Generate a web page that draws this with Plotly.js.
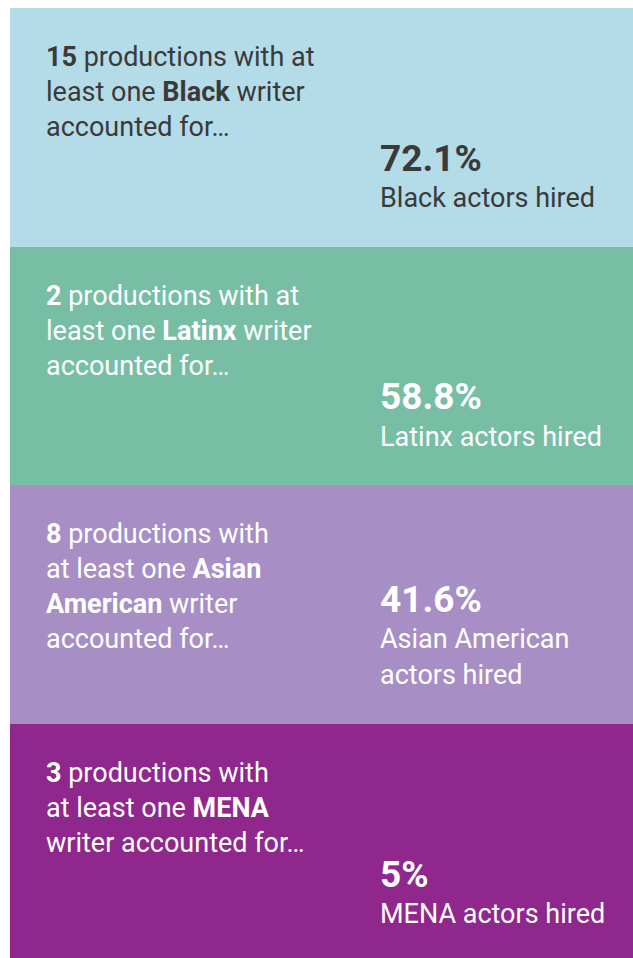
<!DOCTYPE html>
<html>
<head>
<meta charset="utf-8">
<script src="https://cdn.plot.ly/plotly-3.0.1.min.js"></script>
<style>html,body{margin:0;padding:0;background:#fff;}#chart{width:633px;height:958px;}</style>
</head>
<body>
<div id="chart"></div>
<script>
// ---- data ----
const groups = ["Black", "Latinx", "Asian American", "MENA"];
const productions = [15, 2, 8, 3];
const actorShare = [72.1, 58.8, 41.6, 5];
const panelColors = ["#b4dbe8", "#77bea5", "#a78fc5", "#8f278c"];
const textColors = ["#3a3a3a", "#ffffff", "#ffffff", "#ffffff"];
// wrapped text lines per panel
const leftLines = [
  ["<b>15</b> productions with at", "least one <b>Black</b> writer", "accounted for…"],
  ["<b>2</b> productions with at", "least one <b>Latinx</b> writer", "accounted for…"],
  ["<b>8</b> productions with", "at least one <b>Asian</b>", "<b>American</b> writer", "accounted for…"],
  ["<b>3</b> productions with", "at least one <b>MENA</b>", "writer accounted for…"]
];
const pctLabels = ["72.1%", "58.8%", "41.6%", "5%"];
const rightLines = [
  ["Black actors hired"],
  ["Latinx actors hired"],
  ["Asian American", "actors hired"],
  ["MENA actors hired"]
];

// ---- layout constants ----
const FONT = "Roboto, 'Liberation Sans', sans-serif";
const PANEL_PX = 238.7;
const half = PANEL_PX / 2;
const annotations = [];
groups.forEach((g, i) => {
  leftLines[i].forEach((t, k) => {
    annotations.push({
      xref: "paper", yref: "y", x: 0, y: i, xshift: 34,
      xanchor: "left", yanchor: "middle",
      yshift: half - (49 + 35 * k),
      text: t, showarrow: false,
      font: {family: FONT, size: 27, color: textColors[i]}
    });
  });
  const rl = rightLines[i];
  const n = rl.length;
  rl.forEach((t, k) => {
    annotations.push({
      xref: "paper", yref: "y", x: 0, y: i, xshift: 368,
      xanchor: "left", yanchor: "middle",
      yshift: half - (190 - 36 * (n - 1 - k)),
      text: t, showarrow: false,
      font: {family: FONT, size: 27, color: textColors[i]}
    });
  });
  annotations.push({
    xref: "paper", yref: "y", x: 0, y: i, xshift: 368,
    xanchor: "left", yanchor: "middle",
    yshift: half - (190 - 36 * (n - 1) - 40),
    text: "<b>" + pctLabels[i] + "</b>", showarrow: false,
    font: {family: FONT, size: 37, color: textColors[i]}
  });
});

const trace = {
  type: "bar", orientation: "h",
  y: groups.map((g, i) => i),
  x: groups.map(() => 1),
  width: 1,
  marker: {color: panelColors, line: {width: 0}},
  hoverinfo: "skip",
  customdata: actorShare.map((v, i) => [productions[i], v])
};

const layout = {
  width: 633, height: 958,
  margin: {l: 10, r: 0, t: 8, b: 0},
  paper_bgcolor: "#ffffff", plot_bgcolor: "#ffffff",
  showlegend: false,
  bargap: 0,
  xaxis: {range: [0, 1], visible: false, fixedrange: true},
  yaxis: {range: [3.48, -0.5], visible: false, fixedrange: true},
  annotations: annotations
};

Plotly.newPlot("chart", [trace], layout, {displayModeBar: false, staticPlot: true});
</script>
</body>
</html>
